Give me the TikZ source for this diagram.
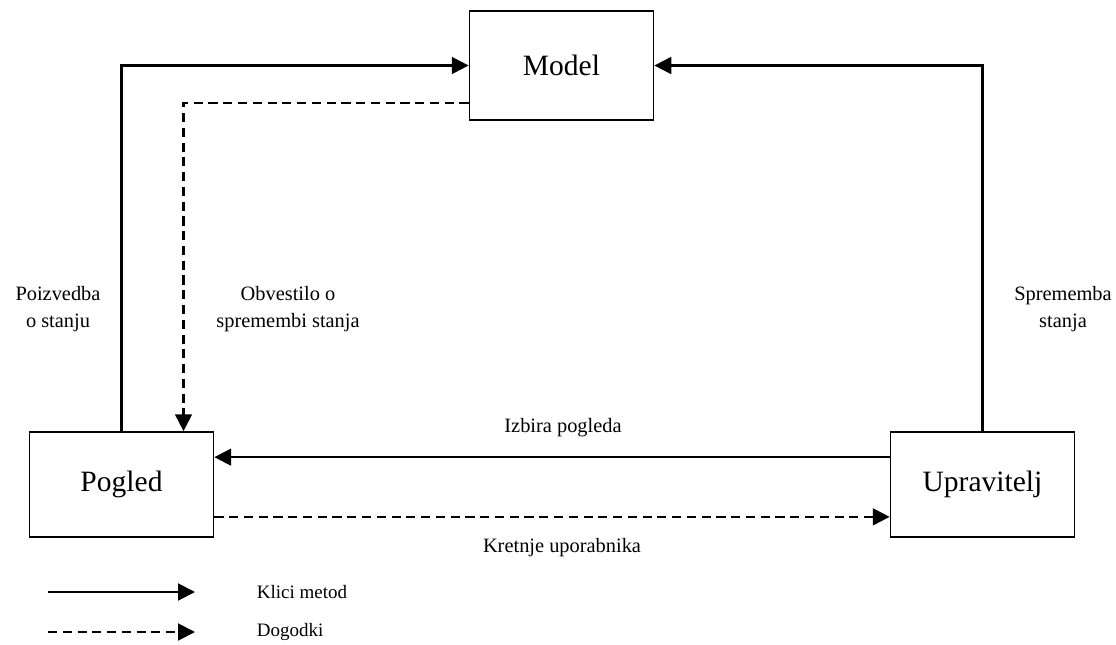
\documentclass[tikz,border=0pt]{standalone}
\usepackage{fontspec}
\setmainfont{Liberation Serif}
\usetikzlibrary{arrows.meta,calc,positioning}

\begin{document}
\begin{tikzpicture}[
    x=0.025cm, y=-0.025cm,
    part box/.style={draw, line width=1.2pt, minimum width=4.6cm, font=\fontsize{21}{25}\selectfont},
    call/.style={line width=1.5pt, -{Triangle[length=12pt,width=12pt]}},
    event/.style={call, dash pattern=on 6.5pt off 4pt},
    flow label/.style={font=\fontsize{14.5}{19}\selectfont, align=center},
    legend label/.style={font=\fontsize{13.5}{16}\selectfont, anchor=west}
]

% Frame
\useasboundingbox (0,0) rectangle (1116,644);

% Boxes
\node[part box, minimum height=2.725cm] (model) at (561.5,65.5) {Model};
\node[part box, minimum height=2.625cm] (pogled) at (121.5,484.5) {Pogled};
\node[part box, minimum height=2.625cm] (upravitelj) at (982.5,484.5) {Upravitelj};

% Method calls
\draw[call] (pogled.north) |- (model.west);
\draw[call] (upravitelj.north) |- (model.east);
\draw[call] ([yshift=-0.65cm]upravitelj.north west) -- ([yshift=-0.65cm]pogled.north east);

% Events
\draw[event] ([yshift=0.45cm]model.south west) -| ([xshift=1.55cm]pogled.north);
\draw[event] ([yshift=0.525cm]pogled.south east) -- ([yshift=0.525cm]upravitelj.south west);

% Labels
\node[flow label] (poizvedba) at (58,309) {Poizvedba\\o stanju};
\node[flow label] (obvestilo) at (288,309) {Obvestilo o\\spremembi stanja};
\node[flow label] (sprememba) at (1063,309) {Sprememba\\stanja};
\node[flow label] (izbira) at (563,428) {Izbira pogleda};
\node[flow label] (kretnje) at (562,548) {Kretnje uporabnika};

% Legend
\coordinate (klici start) at (48,592);
\coordinate (klici end) at (195,592);
\coordinate (dogodki start) at (48,632);
\coordinate (dogodki end) at (195,632);
\draw[call] (klici start) -- (klici end);
\draw[event] (dogodki start) -- (dogodki end);
\node[legend label] (klici) at (252,592) {Klici metod};
\node[legend label] (dogodki) at (252,632) {Dogodki};

\end{tikzpicture}
\end{document}
